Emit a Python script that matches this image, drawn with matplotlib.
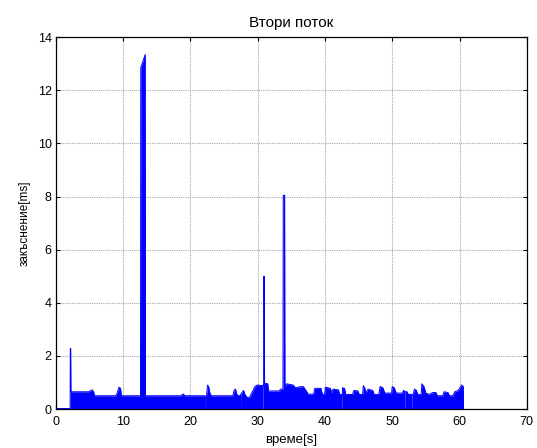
import matplotlib
matplotlib.use("Agg")
import matplotlib.pyplot as plt

plt.rcParams["font.family"] = ["Liberation Sans", "DejaVu Sans"]

TITLE = "Втори поток"
XLABEL = "време[s]"
YLABEL = "закъснение[ms]"
XTICKS = [0, 10, 20, 30, 40, 50, 60, 70]
YTICKS = [0, 2, 4, 6, 8, 10, 12, 14]

# delay profile (time [s], delay [ms])
time = [0.0, 2.12, 2.15, 2.2, 2.24, 4.9, 5.1, 5.4, 5.6, 5.75, 8.9, 9.1, 9.4, 9.6, 9.75,
        12.58, 12.62, 13.28, 13.32, 18.7, 18.8, 19.0, 19.1, 22.2, 22.22, 22.38, 22.4,
        22.55, 22.7, 22.9, 23.1, 26.3, 26.5, 26.7, 26.9, 27.2, 27.36, 27.38, 27.45, 27.47,
        27.9, 28.1, 28.5, 28.8, 29.2, 29.6, 29.9, 30.7, 30.72, 30.8, 30.82, 30.88, 30.9,
        30.98, 31.02, 31.5, 31.6, 33.2, 33.4, 33.76, 33.8, 34.0, 34.05, 34.3, 35.3, 35.6,
        36.3, 36.8, 37.3, 37.5, 38.3, 38.5, 39.4, 39.6, 39.95, 40.05, 40.8, 41.0, 41.2,
        42.0, 42.2, 42.45, 42.47, 42.55, 42.6, 42.9, 43.1, 44.1, 44.3, 44.9, 45.1, 45.6,
        45.7, 45.9, 46.1, 46.4, 47.1, 47.3, 48.0, 48.2, 48.6, 48.9, 49.9, 50.0, 50.3, 50.6,
        51.5, 51.7, 51.78, 51.8, 51.86, 51.88, 52.2, 52.4, 52.86, 52.88, 52.94, 52.96, 53.1,
        53.3, 53.6, 53.8, 54.3, 54.4, 54.7, 55.0, 55.5, 56.0, 56.5, 56.7, 57.5, 57.7, 58.3,
        58.5, 59.0, 59.3, 59.8, 60.3, 60.55, 60.6]
delay = [0.02, 0.02, 2.28, 2.28, 0.65, 0.65, 0.68, 0.72, 0.66, 0.5, 0.5, 0.6, 0.82, 0.78, 0.5,
         0.5, 12.85, 13.35, 0.5, 0.5, 0.56, 0.56, 0.5, 0.5, 0.0, 0.0, 0.5,
         0.9, 0.85, 0.6, 0.5, 0.5, 0.7, 0.75, 0.55, 0.5, 0.5, 0.0, 0.0, 0.55,
         0.7, 0.55, 0.42, 0.45, 0.65, 0.85, 0.9, 0.88, 0.0, 0.0, 0.9, 0.9, 5.0,
         5.0, 0.97, 0.95, 0.68, 0.68, 0.75, 0.75, 8.05, 8.05, 0.85, 0.95, 0.9, 0.8,
         0.84, 0.84, 0.65, 0.56, 0.56, 0.78, 0.78, 0.56, 0.56, 0.82, 0.78, 0.6, 0.75,
         0.72, 0.55, 0.55, 0.0, 0.0, 0.8, 0.78, 0.55, 0.55, 0.7, 0.68, 0.55, 0.55,
         0.88, 0.8, 0.6, 0.75, 0.7, 0.55, 0.55, 0.85, 0.8, 0.6, 0.6, 0.85, 0.8, 0.6,
         0.6, 0.7, 0.68, 0.0, 0.0, 0.66, 0.65, 0.55, 0.55, 0.0, 0.0, 0.55, 0.55,
         0.75, 0.7, 0.55, 0.55, 0.95, 0.85, 0.6, 0.55, 0.62, 0.62, 0.5, 0.5, 0.65, 0.62,
         0.5, 0.5, 0.65, 0.7, 0.9, 0.85, 0.0]

fig = plt.figure(figsize=(5.37, 4.48), dpi=100)
ax = fig.add_axes([0.104, 0.087, 0.877, 0.830])

ax.fill_between(time, delay, 0, color="#0000ff", lw=0)
ax.plot(time, delay, color="#0000ff", lw=0.7)

ax.set_xlim(0, 70)
ax.set_ylim(0, 14)
ax.set_xticks(XTICKS)
ax.set_yticks(YTICKS)
ax.grid(True, ls=(0, (1, 1)), color="0.65", lw=0.8)
ax.set_axisbelow(True)
ax.tick_params(direction="in", top=True, right=True, length=3, labelsize=9)
ax.tick_params(axis="x", pad=5)
ax.tick_params(axis="y", pad=3)
for s in ax.spines.values():
    s.set_linewidth(0.9)

ax.set_title(TITLE, fontsize=11, pad=7)
ax.set_xlabel(XLABEL, fontsize=9.5, labelpad=4)
ax.set_ylabel(YLABEL, fontsize=8.5, labelpad=5)

fig.savefig("out.png", dpi=100)
